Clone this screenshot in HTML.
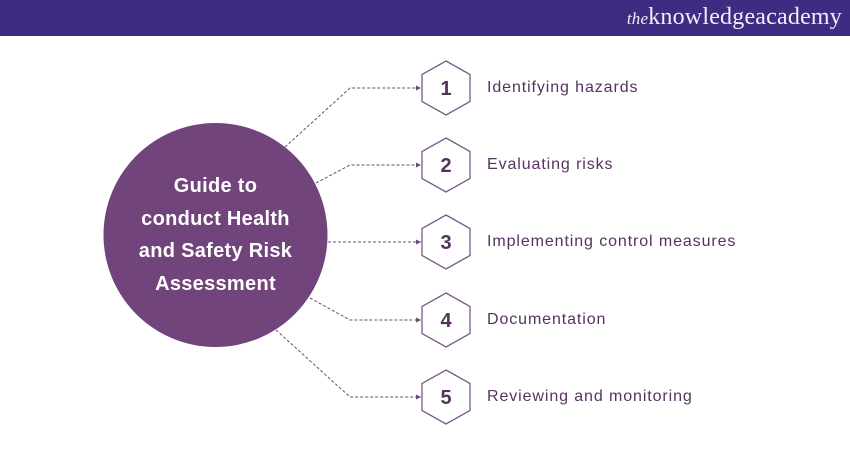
<!DOCTYPE html>
<html><head><style>
body{margin:0;width:850px;height:450px;background:#fff;position:relative;overflow:hidden;font-family:"Liberation Sans",sans-serif}
.hdr{position:absolute;left:0;top:0;width:850px;height:36px;background:#3f2b82}
.logo{position:absolute;right:8px;top:4px;color:#f2eef8;font-family:"Liberation Serif",serif;font-size:24px;letter-spacing:0.2px}
.logo i{font-size:17px}
.lbl{position:absolute;left:487px;font-size:16px;color:#57325f;letter-spacing:0.9px}
.ct{position:absolute;left:98px;top:170px;width:235px;text-align:center;color:#fff;font-weight:bold;font-size:20px;letter-spacing:0.3px;line-height:32.5px}
</style></head><body>
<div class="hdr"><div class="logo"><i>the</i>knowledgeacademy</div></div>
<svg width="850" height="450" style="position:absolute;left:0;top:0">
<defs><marker id="a" markerWidth="6" markerHeight="6" refX="5" refY="3" orient="auto"><path d="M0,0.5 L5,3 L0,5.5z" fill="#6b4a78"/></marker></defs>
<circle cx="215.5" cy="235" r="112" fill="#71447b"/>
<g fill="none" stroke="#6b4a78" stroke-width="1" stroke-dasharray="3,2">
<polyline points="285,147 350,88 421,88" marker-end="url(#a)"/>
<polyline points="316,183 350,165 421,165" marker-end="url(#a)"/>
<polyline points="328,242 421,242" marker-end="url(#a)"/>
<polyline points="310,298 350,320 421,320" marker-end="url(#a)"/>
<polyline points="276,330 350,397 421,397" marker-end="url(#a)"/>
</g>
<g fill="#fff" stroke="#7a5a88" stroke-width="1.3">
<polygon points="446,61 470,74.5 470,101.5 446,115 422,101.5 422,74.5"/>
<polygon points="446,138 470,151.5 470,178.5 446,192 422,178.5 422,151.5"/>
<polygon points="446,215 470,228.5 470,255.5 446,269 422,255.5 422,228.5"/>
<polygon points="446,293 470,306.5 470,333.5 446,347 422,333.5 422,306.5"/>
<polygon points="446,370 470,383.5 470,410.5 446,424 422,410.5 422,383.5"/>
</g>
<g fill="#57325f" font-family="Liberation Sans,sans-serif" font-weight="bold" font-size="20" text-anchor="middle">
<text x="446" y="95">1</text><text x="446" y="172">2</text><text x="446" y="249">3</text><text x="446" y="327">4</text><text x="446" y="404">5</text>
</g>
</svg>
<div class="ct">Guide to<br>conduct Health<br>and Safety Risk<br>Assessment</div>
<div class="lbl" style="top:79px">Identifying hazards</div>
<div class="lbl" style="top:156px">Evaluating risks</div>
<div class="lbl" style="top:233px">Implementing control measures</div>
<div class="lbl" style="top:311px">Documentation</div>
<div class="lbl" style="top:388px">Reviewing and monitoring</div>
</body></html>
